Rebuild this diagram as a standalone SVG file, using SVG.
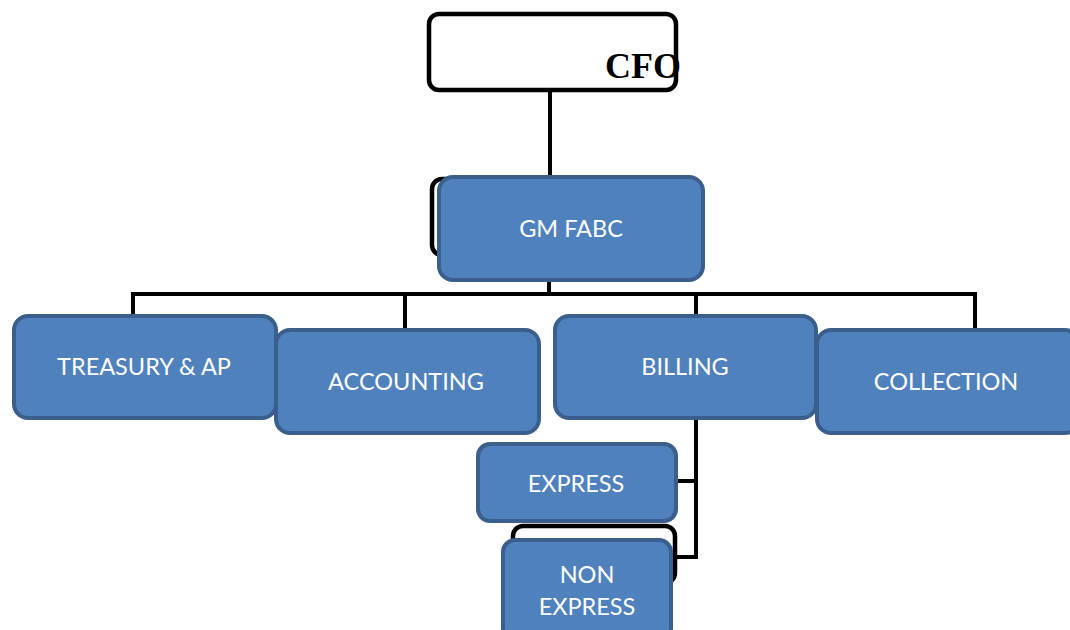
<svg xmlns="http://www.w3.org/2000/svg" width="1070" height="630" viewBox="0 0 1070 630">
  <style>
    .wire { fill: none; stroke: #000; stroke-width: 4; }
    .frame { fill: #fff; stroke: #000; stroke-width: 4.5; }
    .box { fill: #4F81BD; stroke: #3A5F8C; stroke-width: 4; }
    .lbl { fill: #fff; font-family: Lato, "Open Sans", sans-serif; font-size: 23.5px; text-anchor: middle; }
    .title { fill: #000; font-family: "Liberation Serif", serif; font-weight: bold; font-size: 36px; }
  </style>
  <rect width="1070" height="630" fill="#fff"/>

  <!-- connectors -->
  <g id="connectors">
    <line class="wire" x1="550" y1="90" x2="550" y2="180"/>
    <line class="wire" x1="549" y1="278" x2="549" y2="294"/>
    <polyline class="wire" points="133,316 133,294 975,294 975,330"/>
    <line class="wire" x1="405" y1="294" x2="405" y2="330"/>
    <line class="wire" x1="696" y1="294" x2="696" y2="316"/>
    <polyline class="wire" points="696,416 696,557 672,557"/>
    <line class="wire" x1="676" y1="481" x2="696" y2="481"/>
  </g>

  <g id="cfo">
    <rect class="frame" x="429" y="14" width="247" height="76" rx="10"/>
    <text class="title" x="605" y="78">CFO</text>
  </g>

  <g id="gm-fabc">
    <rect class="frame" x="432" y="179" width="250" height="76" rx="10"/>
    <rect class="box" x="439" y="177" width="264" height="103" rx="14"/>
    <text class="lbl" x="571" y="237">GM FABC</text>
  </g>

  <g id="treasury">
    <rect class="box" x="14" y="316" width="262" height="102" rx="14"/>
    <text class="lbl" x="144" y="375">TREASURY &amp; AP</text>
  </g>

  <g id="accounting">
    <rect class="box" x="276" y="330" width="263" height="103" rx="14"/>
    <text class="lbl" x="406" y="390">ACCOUNTING</text>
  </g>

  <g id="billing">
    <rect class="box" x="555" y="316" width="261" height="102" rx="14"/>
    <text class="lbl" x="685" y="375">BILLING</text>
  </g>

  <g id="collection">
    <rect class="box" x="817" y="330" width="262" height="103" rx="14"/>
    <text class="lbl" x="946" y="390">COLLECTION</text>
  </g>

  <g id="express">
    <rect class="box" x="478" y="444" width="198" height="77" rx="12"/>
    <text class="lbl" x="576" y="492">EXPRESS</text>
  </g>

  <g id="non-express">
    <rect class="frame" x="513" y="526" width="162" height="57" rx="10"/>
    <rect class="box" x="503" y="540" width="168" height="100" rx="12"/>
    <text class="lbl" x="587" y="583">NON</text>
    <text class="lbl" x="587" y="615">EXPRESS</text>
  </g>
</svg>
